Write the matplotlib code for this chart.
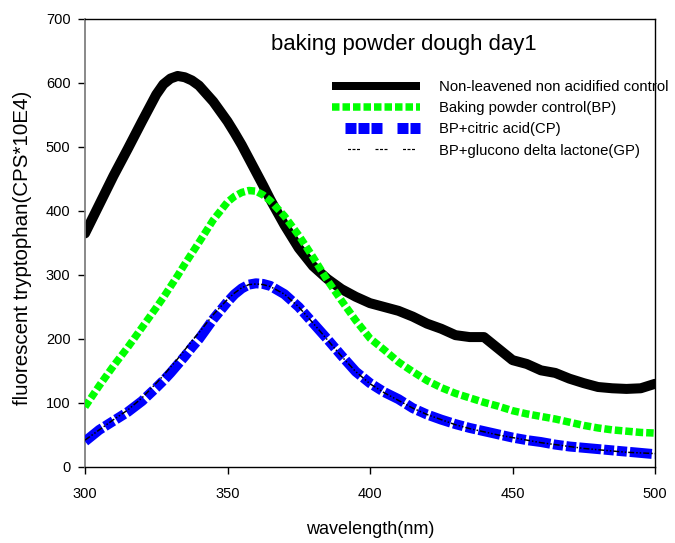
import matplotlib
matplotlib.use("Agg")
import matplotlib.pyplot as plt
from matplotlib.lines import Line2D

plt.rcParams['font.family'] = ["Liberation Sans", "DejaVu Sans"]
plt.rcParams['lines.scale_dashes'] = False

wavelength = [300, 305, 310, 315, 320, 325, 327.5, 330, 332.5, 335, 337.5, 340, 345, 350,
              352.5, 355, 357.5, 360, 362.5, 365, 370, 375, 380, 385, 390, 395, 400,
              405, 410, 415, 420, 425, 430, 435, 440, 445, 450, 455, 460, 465, 470,
              475, 480, 485, 490, 495, 500]

control = [365, 410, 455, 497, 540, 582, 598, 607, 611, 609, 604, 596, 571, 540,
           522, 503, 482, 461, 440, 418, 378, 342, 314, 294, 278, 266, 256,
           250, 244, 235, 224, 216, 206, 203, 203, 185, 167, 161, 151, 147, 138,
           131, 125, 123, 122, 123, 130]

bp = [94, 127, 158, 187, 218, 249, 265, 282, 299, 317, 334, 351, 386, 414,
      423, 429, 432, 431, 425, 416, 392, 362, 328, 292, 260, 229, 201,
      183, 164, 149, 135, 124, 115, 108, 101, 95, 88, 83, 79, 75, 70,
      65, 61, 58, 56, 54, 53]

cp = [40, 58, 72, 86, 103, 124, 135, 147, 160, 173, 187, 200, 231, 258,
      270, 279, 285, 287, 286, 283, 270, 250, 225, 200, 174, 149, 131,
      117, 106, 92, 82, 74, 67, 61, 56, 51, 46, 42, 39, 35, 32,
      30, 28, 26, 24, 22, 20]

gp = [42, 58, 74, 89, 108, 131, 143, 156, 169, 183, 197, 210, 238, 262,
      272, 280, 285, 286, 285, 282, 270, 250, 225, 199, 173, 149, 130,
      116, 104, 92, 82, 74, 66, 60, 55, 50, 46, 42, 38, 35, 32,
      29, 27, 25, 23, 22, 21]

labels = ["Non-leavened non acidified control", "Baking powder control(BP)",
          "BP+citric acid(CP)", "BP+glucono delta lactone(GP)"]

px = 0.72  # points per pixel at dpi 100

fig = plt.figure(figsize=(6.75, 5.43), dpi=100)
ax = fig.add_axes([85 / 675, 1 - 467 / 543, (655 - 85) / 675, (467 - 19) / 543])

ax.plot(wavelength, control, color='black', lw=10 * px, solid_capstyle='round',
        solid_joinstyle='round', zorder=2)
ax.plot(wavelength, bp, color='#00ff00', lw=7.5 * px, dash_capstyle='butt',
        dashes=[7.5 * px, 3 * px], zorder=3)
ax.plot(wavelength, cp, color='#0000ff', lw=10 * px, dash_capstyle='butt',
        dashes=[22 * px, 3 * px, 10 * px, 3 * px, 10 * px, 3 * px], zorder=4)
ax.plot(wavelength, gp, color='black', lw=1.5 * px,
        dashes=[6 * px, 2 * px, 1.5 * px, 2 * px, 1.5 * px, 2 * px], zorder=5)

ax.set_xlim(300, 500)
ax.set_ylim(0, 700)
ax.set_xticks([300, 350, 400, 450, 500])
ax.set_yticks([0, 100, 200, 300, 400, 500, 600, 700])
ax.tick_params(axis='both', direction='out', length=5, width=1, labelsize=10.5,
               colors='black')
ax.tick_params(axis='x', pad=9.5)
ax.tick_params(axis='y', pad=5.5)
for s in ['top', 'right', 'bottom']:
    ax.spines[s].set_color('black')
    ax.spines[s].set_linewidth(1)
ax.spines['left'].set_color('#808080')
ax.spines['left'].set_linewidth(1.3)

ax.set_xlabel("wavelength(nm)", fontsize=13)
ax.xaxis.set_label_coords(0.5, (467 - 530) / 448)
ax.xaxis.label.set_va('center')
ax.set_ylabel("fluorescent tryptophan(CPS*10E4)", fontsize=14.8)
ax.yaxis.set_label_coords((23 - 85) / 570, (467 - 248) / 448)
ax.yaxis.label.set_va('center')

fig.text(404 / 675, 1 - 50 / 543, "baking powder dough day1", ha='center',
         va='baseline', fontsize=15.9)

sq = 11 * px
handles = [
    Line2D([], [], color='black', lw=8 * px, solid_capstyle='butt'),
    Line2D([], [], color='#00ff00', lw=7.5 * px, dash_capstyle='butt',
           dashes=[7.5 * px, 3 * px]),
    Line2D([], [], color='#0000ff', lw=11 * px, dash_capstyle='butt',
           linestyle=(93 * px, [sq, 2 * px, sq, 2 * px, sq, 15 * px, sq, 2 * px, sq, 30 * px])),
    Line2D([], [], color='black', lw=1.2 * px,
           linestyle=(12 * px, [3 * px, 1.5 * px, 3 * px, 1.5 * px, 3 * px, 15.5 * px])),
]
fs_leg = 10.75
leg = ax.legend(handles, labels, loc='upper left', bbox_to_anchor=(332 / 675, 1 - 80 / 543),
                bbox_transform=fig.transFigure, frameon=False, fontsize=fs_leg,
                handlelength=88 / (fs_leg / 0.72), handletextpad=19 / (fs_leg / 0.72),
                labelspacing=0.48, borderpad=0, borderaxespad=0)

fig.savefig("out.png", dpi=100)
